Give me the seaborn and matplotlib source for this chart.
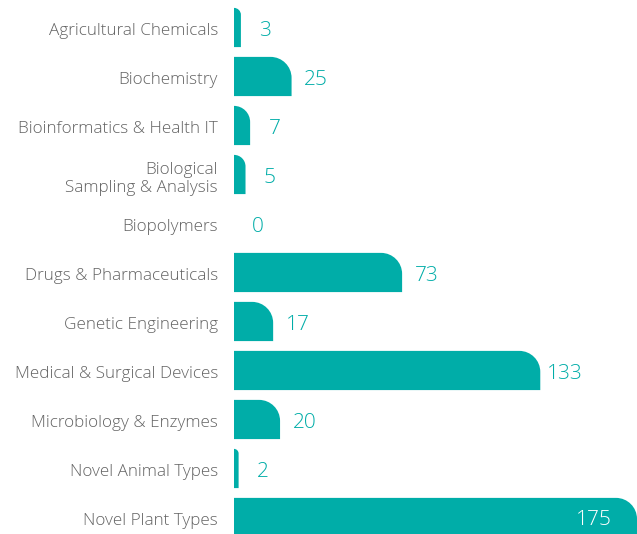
import numpy as np
import pandas as pd
import seaborn as sns
import matplotlib.pyplot as plt
import matplotlib.transforms as mtransforms
from matplotlib.path import Path
from matplotlib.patches import PathPatch

# data
categories = [
    'Agricultural Chemicals',
    'Biochemistry',
    'Bioinformatics & Health IT',
    'Biological\nSampling & Analysis',
    'Biopolymers',
    'Drugs & Pharmaceuticals',
    'Genetic Engineering',
    'Medical & Surgical Devices',
    'Microbiology & Enzymes',
    'Novel Animal Types',
    'Novel Plant Types',
]
counts = [3, 25, 7, 5, 0, 73, 17, 133, 20, 2, 175]

TEAL = '#00ADA8'
W, H, DPI = 637, 534, 100

df = pd.DataFrame({'category': categories, 'count': counts})

sns.set_theme(style='white')
plt.rcParams['font.family'] = ['Open Sans', 'DejaVu Sans']

fig = plt.figure(figsize=(W / DPI, H / DPI), dpi=DPI)
ax = fig.add_axes([234 / W, 0, (W - 234) / W, 1])

sns.barplot(data=df, y='category', x='count', orient='h', color=TEAL,
            width=0.8, saturation=1, ax=ax)

ax.set_xlim(0, 175)
ax.set_ylim(10.337, -0.561)
ax.set_xlabel('')
ax.set_ylabel('')
ax.set_xticks([])
sns.despine(ax=ax, left=True, bottom=True)
ax.tick_params(axis='y', length=0, pad=11.5, labelsize=12.3, labelcolor='#636363')
shift = mtransforms.ScaledTranslation(0, -1 / 72, fig.dpi_scale_trans)
for lab in ax.get_yticklabels():
    lab.set_fontweight('light')
    lab.set_transform(lab.get_transform() + shift)

# swap plain rectangles for bars with a rounded top-right corner
fig.canvas.draw()
px_x = ax.bbox.width / 175.0
px_y = ax.bbox.height / (10.337 + 0.561)
k = 0.5523
for p in list(ax.patches):
    x0, y0 = p.get_x(), p.get_y()
    w, h = p.get_width(), p.get_height()
    p.remove()
    if w <= 0:
        continue
    r_px = min(21.0, w * px_x)
    rx, ry = r_px / px_x, r_px / px_y
    y1 = y0 + h
    xe = x0 + w
    verts = [
        (x0, y1), (x0, y0), (xe - rx, y0),
        (xe - rx + k * rx, y0), (xe, y0 + ry - k * ry), (xe, y0 + ry),
        (xe, y1), (x0, y1),
    ]
    codes = [Path.MOVETO, Path.LINETO, Path.LINETO,
             Path.CURVE4, Path.CURVE4, Path.CURVE4,
             Path.LINETO, Path.CLOSEPOLY]
    ax.add_patch(PathPatch(Path(verts, codes), facecolor=TEAL,
                           edgecolor='none', clip_on=True))

# value labels
for i, v in enumerate(counts):
    if v > 150:
        ax.annotate(str(v), xy=(v, i), xytext=(-31, -2), textcoords='offset points',
                    ha='center', va='center', fontsize=15, color='white',
                    fontweight='light')
    else:
        ax.annotate(str(v), xy=(v, i), xytext=(17.5, -2.5), textcoords='offset points',
                    ha='center', va='center', fontsize=15, color=TEAL,
                    fontweight='light')

fig.savefig('out.png', dpi=DPI)
